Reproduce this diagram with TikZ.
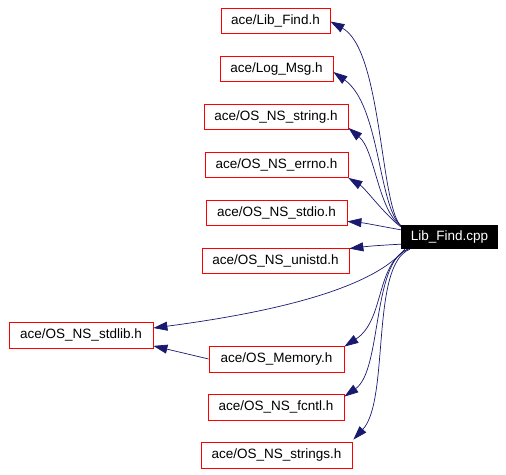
\documentclass[tikz,border=0pt]{standalone}
\usepackage{fontspec}
\setmainfont{Liberation Sans}
\usetikzlibrary{arrows.meta}
\definecolor{edgeblue}{HTML}{191970}

\begin{document}
\begin{tikzpicture}[x=1pt,y=-1pt,
  hdr/.style={draw=red,line width=0.8pt,minimum height=25pt,inner sep=0pt,font=\fontsize{13.5}{16}\selectfont},
  src/.style={fill=black,text=white,minimum height=24pt,minimum width=97pt,inner sep=0pt,font=\fontsize{13.5}{16}\selectfont},
  dep/.style={draw=edgeblue,line width=0.7pt,-{Triangle[length=14pt,width=9pt]}}]
\useasboundingbox (0,0) rectangle (506,474);
\node[src] (cpp) at (449.5,237) {Lib\_Find.cpp};
\node[hdr,minimum width=109pt] (libfind) at (275.5,20.5) {ace/Lib\_Find.h};
\node[hdr,minimum width=113pt] (logmsg) at (276.5,69) {ace/Log\_Msg.h};
\node[hdr,minimum width=144pt] (string) at (276,117) {ace/OS\_NS\_string.h};
\node[hdr,minimum width=143pt] (errno) at (276.5,165) {ace/OS\_NS\_errno.h};
\node[hdr,minimum width=141pt] (stdio) at (276.5,212.5) {ace/OS\_NS\_stdio.h};
\node[hdr,minimum width=147pt] (unistd) at (275.5,260.5) {ace/OS\_NS\_unistd.h};
\node[hdr,minimum width=144pt,minimum height=26pt] (stdlib) at (81,335) {ace/OS\_NS\_stdlib.h};
\node[hdr,minimum width=135pt,minimum height=26pt] (memory) at (276.5,359) {ace/OS\_Memory.h};
\node[hdr,minimum width=136pt,minimum height=26pt] (fcntl) at (276,407) {ace/OS\_NS\_fcntl.h};
\node[hdr,minimum width=151pt,minimum height=26pt] (strings) at (276.5,455) {ace/OS\_NS\_strings.h};
% upper headers
\draw[dep] ([yshift=-1pt]cpp.north west) .. controls (380,205) and (382,50) .. ([yshift=-1pt]libfind.east);
\draw[dep] ([yshift=-1pt]cpp.north west) .. controls (378,205) and (380,105) .. ([yshift=-3pt]logmsg.east);
\draw[dep] ([yshift=-1pt]cpp.north west) .. controls (378,210) and (375,150) .. ([yshift=2pt]string.south east);
\draw[dep] ([yshift=-2pt]cpp.north west) .. controls (385,215) and (365,188) .. (errno.south east);
\draw[dep] ([yshift=-5pt]cpp.north west) .. controls (385,227) and (365,223) .. ([yshift=4pt]stdio.south east);
\draw[dep] ([yshift=5pt]cpp.south west) .. controls (385,245) and (370,246) .. ([yshift=-1pt]unistd.north east);
% lower headers
\draw[dep] ([xshift=4pt]cpp.south west) .. controls (375,285) and (290,310) .. ([yshift=7pt]stdlib.east);
\draw[dep] (memory.west) -- ([yshift=2.5pt]stdlib.south east);
\draw[dep] ([xshift=7pt]cpp.south west) .. controls (375,265) and (385,320) .. ([yshift=-1pt]memory.north east);
\draw[dep] ([xshift=7pt]cpp.south west) .. controls (372,262) and (382,370) .. ([yshift=-3pt]fcntl.north east);
\draw[dep] ([xshift=9pt]cpp.south west) .. controls (370,265) and (390,400) .. ([xshift=1pt,yshift=2pt]strings.north east);
\end{tikzpicture}
\end{document}
